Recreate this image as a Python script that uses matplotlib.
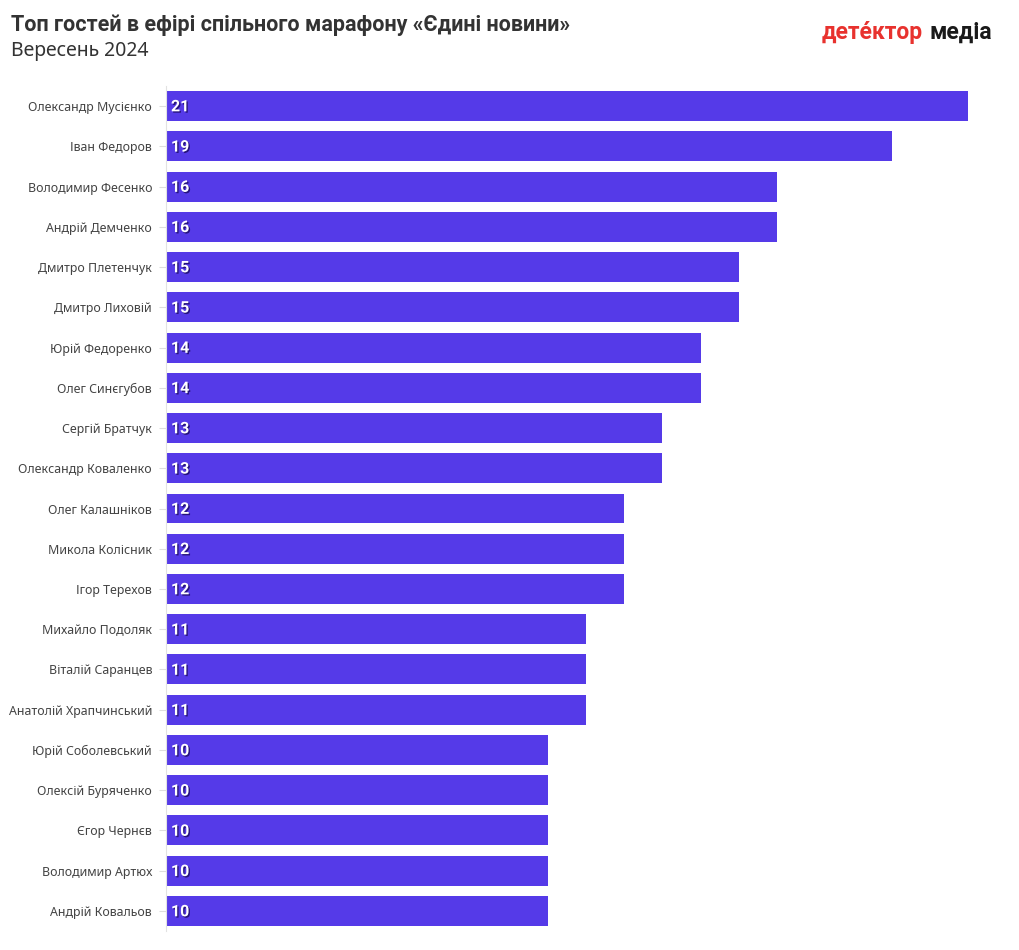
import matplotlib
matplotlib.use("Agg")
import matplotlib.pyplot as plt
import matplotlib.patheffects as pe

names = ["Олександр Мусієнко", "Іван Федоров", "Володимир Фесенко", "Андрій Демченко",
         "Дмитро Плетенчук", "Дмитро Лиховій", "Юрій Федоренко", "Олег Синєгубов",
         "Сергій Братчук", "Олександр Коваленко", "Олег Калашніков", "Микола Колісник",
         "Ігор Терехов", "Михайло Подоляк", "Віталій Саранцев", "Анатолій Храпчинський",
         "Юрій Соболевський", "Олексій Буряченко", "Єгор Чернєв", "Володимир Артюх",
         "Андрій Ковальов"]
values = [21, 19, 16, 16, 15, 15, 14, 14, 13, 13, 12, 12, 12, 11, 11, 11, 10, 10, 10, 10, 10]

title = "Топ гостей в ефірі спільного марафону «Єдині новини»"
subtitle = "Вересень 2024"

plt.rcParams['font.family'] = ['Noto Sans', 'DejaVu Sans']

fig = plt.figure(figsize=(10.2, 9.5), dpi=100)
ax = fig.add_axes([166/1020, (950-931.1)/950, 802/1020, 845.2/950])

bar_color = '#553ae8'
ypos = list(range(len(names)))
ax.barh(ypos, values, height=0.745, color=bar_color, zorder=2)
ax.set_xlim(0, 21)
ax.set_ylim(len(names) - 0.5, -0.5)
ax.set_yticks(ypos)
ax.set_yticklabels(names, fontsize=8.9, color='#444444')
ax.tick_params(axis='y', length=5, width=0.8, color='#dddddd', pad=5)
ax.set_xticks([])
for s in ['top', 'right', 'bottom']:
    ax.spines[s].set_visible(False)
ax.spines['left'].set_color('#e2e2e2')
ax.spines['left'].set_linewidth(0.8)

for y, v in zip(ypos, values):
    ax.text(0.13, y + 0.02, str(v), va='center', ha='left', color='white',
            fontsize=11.5, fontweight='bold', zorder=3, family='Roboto',
            path_effects=[pe.SimplePatchShadow(offset=(1, -1), shadow_rgbFace='#221070', alpha=0.9),
                          pe.Normal()])

fig.text(11/1020, 1 - 25/950, title, fontsize=15.5, fontweight='bold', color='#333333',
         va='center', ha='left', family='Roboto')
fig.text(11/1020, 1 - 51/950, subtitle, fontsize=14, color='#333333',
         va='center', ha='left')

# logo
t1 = fig.text(822/1020, 1 - 32/950, "детéктор", fontsize=16.5, fontweight='bold',
              color='#e8322e', va='center', ha='left', family='Roboto')
fig.canvas.draw()
bb = t1.get_window_extent()
fig.text((bb.x1 + 6)/1020, 1 - 32/950, "медіа", fontsize=16.5, fontweight='bold',
         color='#1a1a1a', va='center', ha='left', family='Roboto')

fig.savefig("out.png", dpi=100, facecolor='white')
